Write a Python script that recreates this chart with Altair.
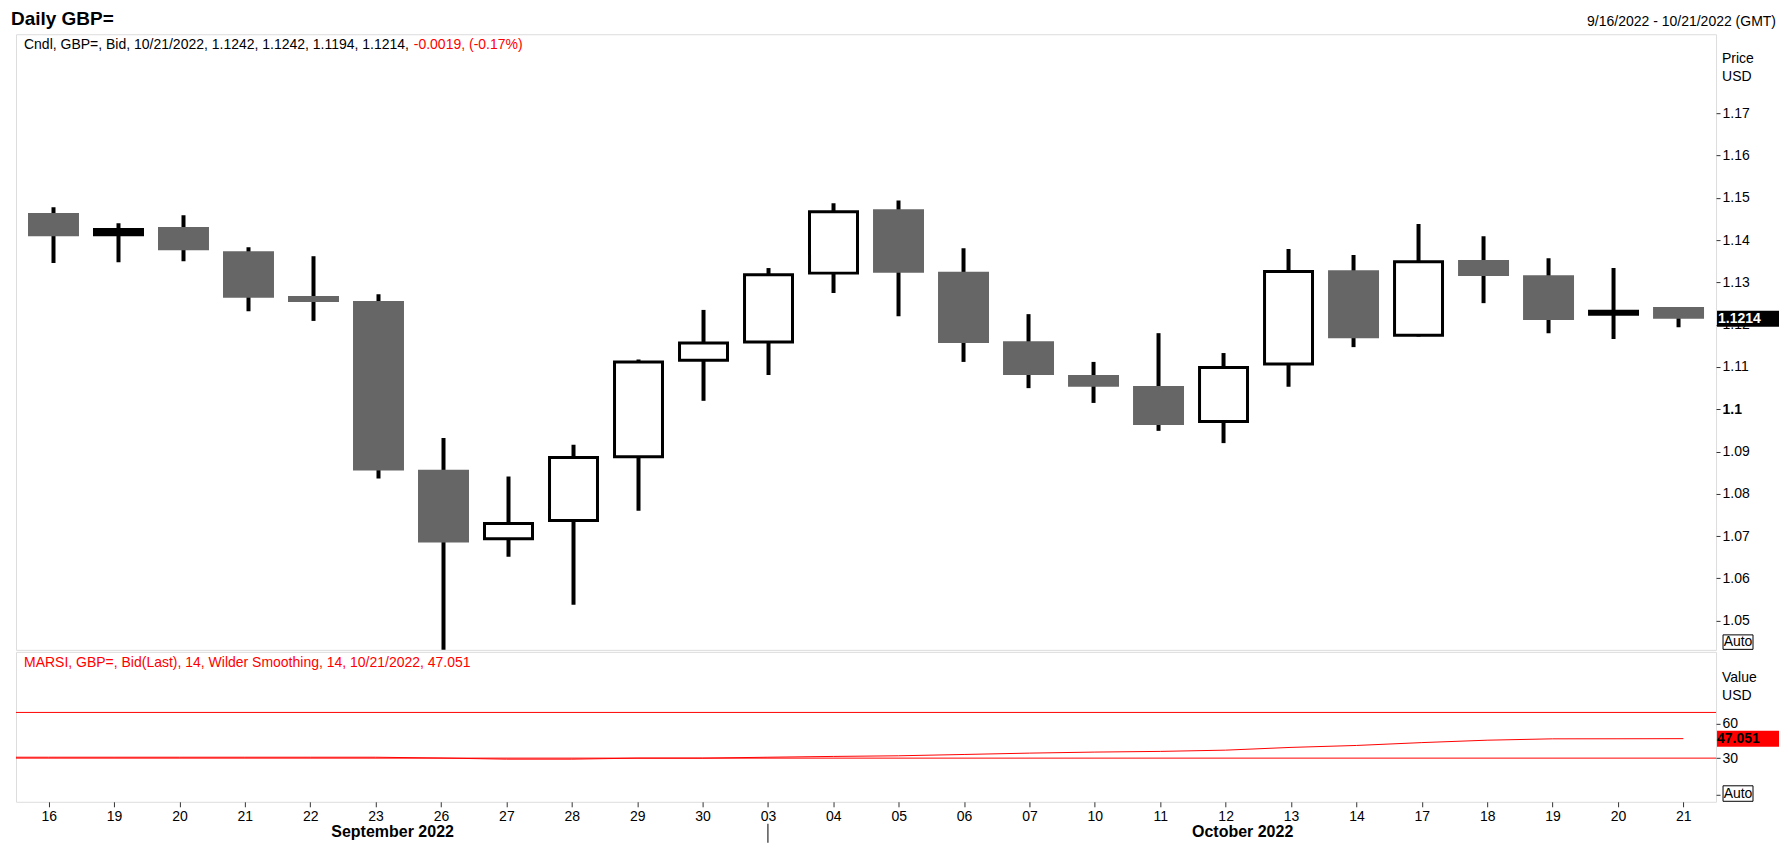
import altair as alt
import pandas as pd

# ---------------- data ----------------
days = ["16", "19", "20", "21", "22", "23", "26", "27", "28", "29", "30",
        "03", "04", "05", "06", "07", "10", "11", "12", "13", "14", "17", "18", "19", "20", "21"]
months = ["September 2022"] * 11 + ["October 2022"] * 15

open_ = [1.1464, 1.1413, 1.1431, 1.1374, 1.1268, 1.1256, 1.0857, 1.0694, 1.0737, 1.0888, 1.1116,
         1.1159, 1.1322, 1.1473, 1.1325, 1.1161, 1.1081, 1.1055, 1.0971, 1.1107, 1.1329, 1.1175,
         1.1353, 1.1317, 1.1225, 1.1242]
high = [1.1478, 1.1440, 1.1459, 1.1383, 1.1362, 1.1272, 1.0932, 1.0841, 1.0916, 1.1118, 1.1235,
        1.1334, 1.1487, 1.1494, 1.1381, 1.1225, 1.1112, 1.1180, 1.1133, 1.1379, 1.1365, 1.1438,
        1.1409, 1.1357, 1.1334, 1.1242]
low = [1.1346, 1.1348, 1.1350, 1.1232, 1.1209, 1.0836, 1.0350, 1.0651, 1.0538, 1.0760, 1.1020,
       1.1081, 1.1275, 1.1220, 1.1112, 1.1050, 1.1015, 1.0949, 1.0920, 1.1053, 1.1147, 1.1172,
       1.1251, 1.1180, 1.1166, 1.1194]
close = [1.1409, 1.1425, 1.1376, 1.1264, 1.1254, 1.0855, 1.0685, 1.0730, 1.0886, 1.1112, 1.1157,
         1.1318, 1.1467, 1.1323, 1.1157, 1.1081, 1.1053, 1.0963, 1.1099, 1.1326, 1.1168, 1.1349,
         1.1315, 1.1211, 1.1232, 1.1214]
prev_close = 1.1233

rsi_prior = 30.8  # 9/15/2022, just left of the visible window
rsi = [30.8, 30.8, 30.8, 30.8, 30.8, 30.8, 30.1, 29.1, 29.1, 30.0, 30.0,
       30.8, 31.5, 32.05, 33.2, 34.4, 35.3, 35.9, 37.0, 39.4, 41.1, 43.6, 45.7, 46.9, 46.95, 47.051]
rsi_levels = [70, 30]

price_ticks = [1.05, 1.06, 1.07, 1.08, 1.09, 1.10, 1.11, 1.12, 1.13, 1.14, 1.15, 1.16, 1.17]
rsi_ticks = [30, 60, -2.5]

title_text = "Daily GBP="
date_range = "9/16/2022 - 10/21/2022 (GMT)"
rsi_header = "MARSI, GBP=, Bid(Last),  14, Wilder Smoothing, 14, 10/21/2022, 47.051"

# ---------------- layout constants ----------------
FONT = "Liberation Sans"
W, HP, HR = 1701, 616, 150
n = len(days)

df = pd.DataFrame({"i": list(range(n)), "day": days, "month": months,
                   "open": open_, "high": high, "low": low, "close": close})
up = df[df.close >= df.open]
down = df[df.close < df.open]

chg = close[-1] - prev_close
pct = chg / prev_close * 100
header_black = (f"Cndl, GBP=, Bid, 10/21/2022, {open_[-1]:.4f}, {high[-1]:.4f}, "
                f"{low[-1]:.4f}, {close[-1]:.4f}, ")
header_red = f"{chg:.4f}, ({pct:.2f}%)"

xscale = alt.Scale(domain=[-0.5, n - 0.5], nice=False, zero=False)
pscale = alt.Scale(domain=[1.0431, 1.1887], nice=False, zero=False)
rscale = alt.Scale(domain=[-8.2, 123.0], nice=False, zero=False)

price_axis = alt.Axis(
    orient="right", values=price_ticks, title=None, grid=False, domain=False,
    tickSize=4, tickColor="#333333", labelPadding=2, labelFont=FONT, labelFontSize=14,
    labelColor="black", labelOverlap=False,
    labelExpr="abs(datum.value - 1.1) < 0.00001 ? '1.1' : format(datum.value, '.2f')",
    labelFontWeight={"condition": {"test": "abs(datum.value - 1.1) < 0.00001", "value": "bold"},
                     "value": "normal"},
)
x_axis = alt.Axis(
    values=list(range(n)), title=None, grid=False, domain=False, tickSize=5,
    tickColor="#333333", labelPadding=3, labelFont=FONT, labelFontSize=14, labelColor="black",
    labelOverlap=False, labelFlush=False,
    labelExpr="[" + ",".join(f"'{d}'" for d in days) + "][datum.value]",
)
rsi_axis = alt.Axis(
    orient="right", values=rsi_ticks, title=None, grid=False, domain=False, tickSize=4,
    tickColor="#333333", labelPadding=2, labelFont=FONT, labelFontSize=14, labelColor="black",
    labelOverlap=False, labelExpr="datum.value < 0 ? '' : datum.label",
)


def XP(field):
    return alt.X(field, scale=xscale, axis=None)


def YP(field):
    return alt.Y(field, scale=pscale, axis=price_axis)


def XR(field):
    return alt.X(field, scale=xscale, axis=x_axis)


def YR(field):
    return alt.Y(field, scale=rscale, axis=rsi_axis)


def one(text):
    return pd.DataFrame({"t": [text]})


def label(text, x, y, size=14, color="black", weight="normal", align="left", baseline="alphabetic"):
    return alt.Chart(one(text)).mark_text(
        font=FONT, fontSize=size, color=color, fontWeight=weight, align=align, baseline=baseline
    ).encode(x=alt.value(x), y=alt.value(y), text="t:N")


def box(x, x2, y, y2):
    return alt.Chart(one("")).mark_rect(fill="white", stroke="black", strokeWidth=1).encode(
        x=alt.value(x), x2=alt.value(x2), y=alt.value(y), y2=alt.value(y2))


# ---------------- price panel ----------------
wicks = alt.Chart(df).mark_rule(color="black", strokeWidth=4, clip=True).encode(
    x=XP("i:Q"), y=YP("low:Q"), y2="high:Q")
down_bodies = alt.Chart(down).mark_bar(size=51, color="#666666", clip=True).encode(
    x=XP("i:Q"), y=YP("open:Q"), y2="close:Q")
up_bodies = alt.Chart(up).mark_bar(size=48, stroke="black", strokeWidth=3, clip=True).encode(
    x=XP("i:Q"), y=YP("open:Q"), y2="close:Q",
    fill=alt.condition("datum.close - datum.open < 0.0015", alt.value("black"), alt.value("white")),
)

last_df = df.tail(1).assign(lbl=lambda d: d.close.map(lambda v: f"{v:.4f}"))
last_box = alt.Chart(last_df).mark_rect(color="black", yOffset=-8, y2Offset=8).encode(
    x=alt.value(W + 1), x2=alt.value(W + 63), y=YP("close:Q"), y2="close:Q")
last_txt = alt.Chart(last_df).mark_text(
    font=FONT, fontSize=14, fontWeight="bold", color="white", align="left", baseline="middle"
).encode(x=alt.value(W + 2), y=YP("close:Q"), text="lbl:N")

price = alt.layer(
    wicks, down_bodies, up_bodies,
    label(header_black, 8, 15),
    label(header_red, 398, 15, color="#ff0000"),
    label(title_text, -5, -9, size=19, weight="bold"),
    label(date_range, W + 60, -8, align="right"),
    label("Price", W + 6, 25, baseline="middle"),
    label("USD", W + 6, 43, baseline="middle"),
    last_box, last_txt,
    box(W + 7, W + 37, HP - 15, HP - 0.5),
    label("Auto", W + 22, HP - 8, align="center", baseline="middle"),
).properties(width=W, height=HP)

# ---------------- RSI panel ----------------
rsi_df = pd.DataFrame({"i": [-1] + list(range(n)), "rsi": [rsi_prior] + rsi})
lvl_df = pd.DataFrame({"v": rsi_levels})

levels = alt.Chart(lvl_df).mark_rule(color="#ff0000", strokeWidth=1).encode(y=YR("v:Q"))
rsi_line = alt.Chart(rsi_df).mark_line(color="#ff0000", strokeWidth=1, clip=True).encode(
    x=XR("i:Q"), y=YR("rsi:Q"))

rsi_last = pd.DataFrame({"v": [rsi[-1]], "lbl": [f"{rsi[-1]:.3f}"]})
rsi_box = alt.Chart(rsi_last).mark_rect(color="#ff0000", yOffset=-8, y2Offset=8).encode(
    x=alt.value(W + 1), x2=alt.value(W + 63), y=YR("v:Q"), y2="v:Q")
rsi_txt = alt.Chart(rsi_last).mark_text(
    font=FONT, fontSize=14, fontWeight="bold", color="black", align="left", baseline="middle"
).encode(x=alt.value(W + 1), y=YR("v:Q"), text="lbl:N")

month_df = df.groupby("month", sort=False)["i"].mean().reset_index()
month_txt = alt.Chart(month_df).mark_text(
    font=FONT, fontSize=16, fontWeight="bold", color="black", align="center",
    baseline="alphabetic", dx=17
).encode(x=XR("i:Q"), y=alt.value(HR + 35), text="month:N")

first_oct = pd.DataFrame({"i": [months.index("October 2022")]})
month_sep = alt.Chart(first_oct).mark_rule(color="black", strokeWidth=1).encode(
    x=XR("i:Q"), y=alt.value(HR + 22), y2=alt.value(HR + 41))

rsi_panel = alt.layer(
    levels, rsi_line,
    label(rsi_header, 8, 15, color="#ff0000"),
    label("Value", W + 6, 26, baseline="middle"),
    label("USD", W + 6, 44, baseline="middle"),
    rsi_box, rsi_txt,
    box(W + 7, W + 37, HR - 16, HR - 0.5),
    label("Auto", W + 22, HR - 8, align="center", baseline="middle"),
    month_txt, month_sep,
).properties(width=W, height=HR)

chart = alt.vconcat(price, rsi_panel, spacing=0).properties(
    padding={"left": 2, "top": 1, "right": 0, "bottom": 2},
    background="white",
).configure_view(stroke="#8e8e9a", strokeWidth=1).configure(font=FONT)

chart.save("out.html", embed_options={"renderer": "svg", "actions": False})
